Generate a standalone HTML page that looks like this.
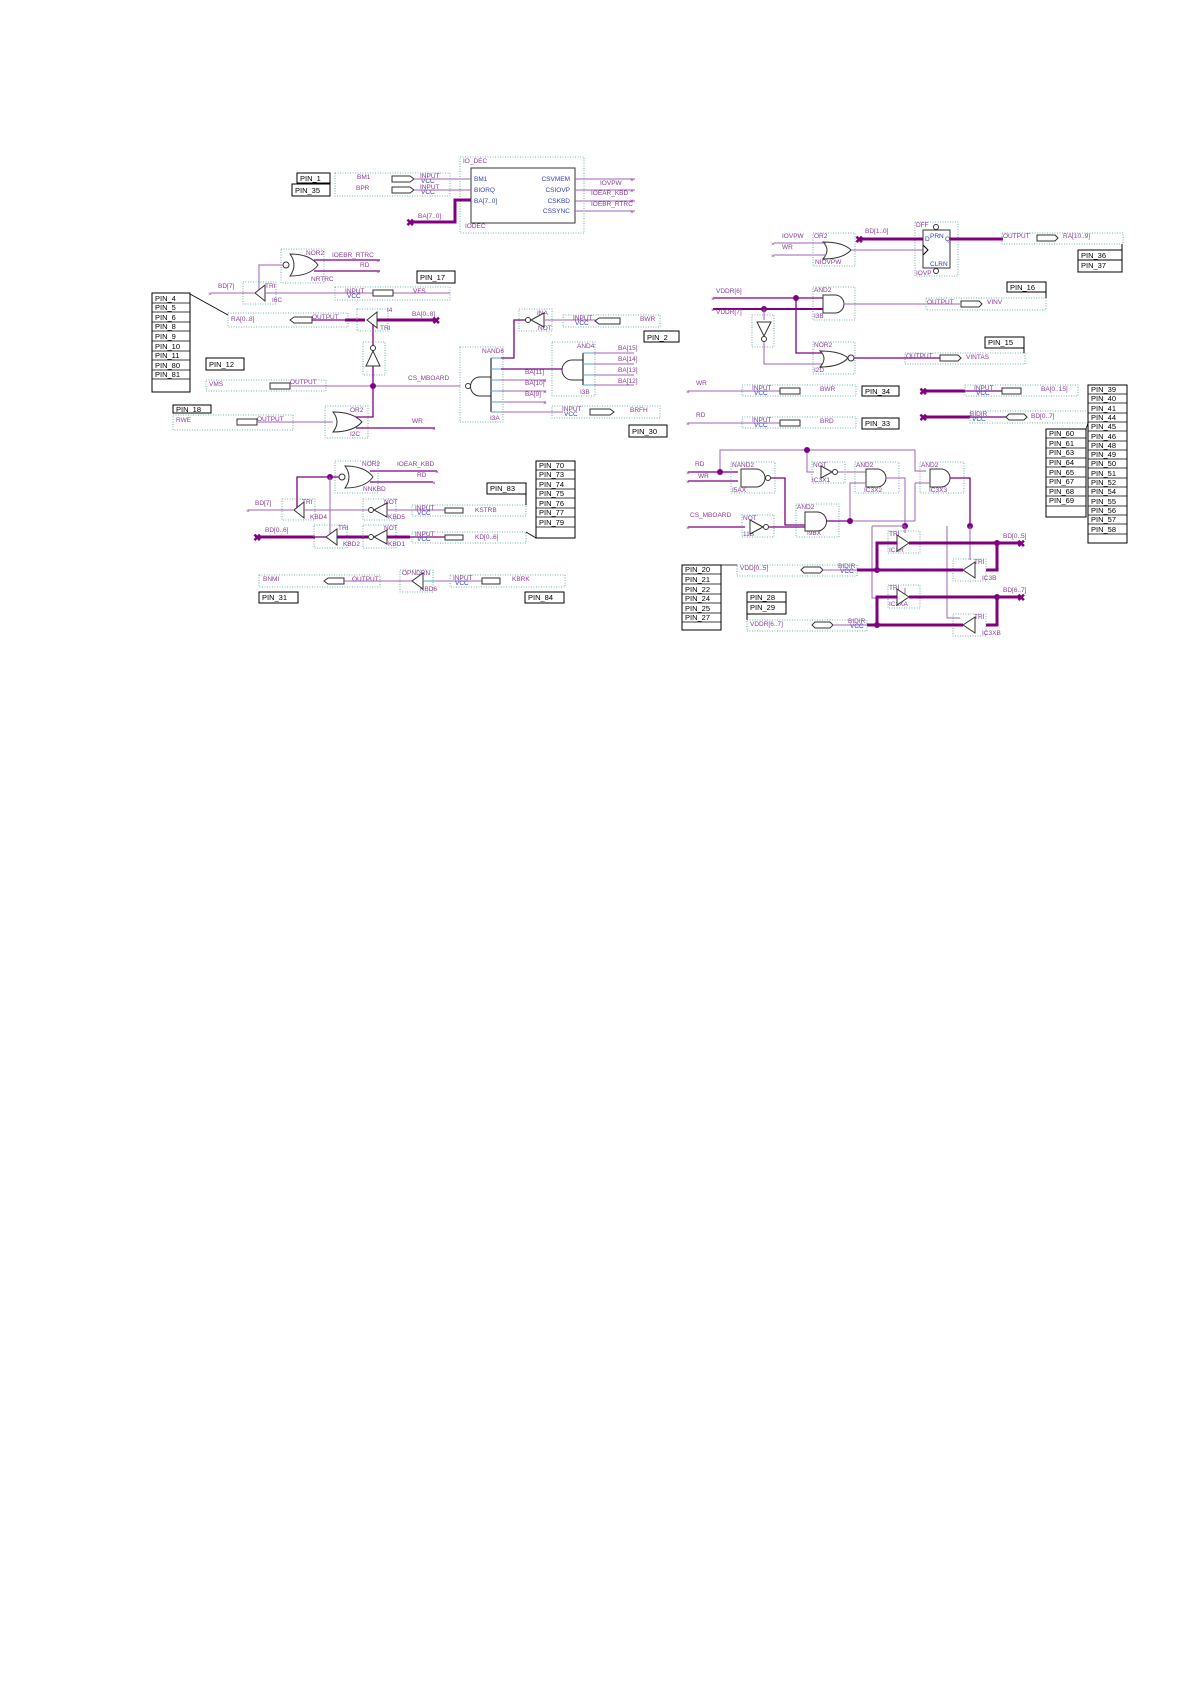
<!DOCTYPE html>
<html><head><meta charset="utf-8"><style>
html,body{margin:0;padding:0;background:#fff}
svg{display:block}
text{font-family:"Liberation Sans",sans-serif}
.p{fill:#8a3a9a;font-size:6.5px}
.b{fill:#3040c0;font-size:6.5px}
.n{fill:#000;font-size:7.5px}
.t{stroke:#a060b8;stroke-width:1;fill:none}
.m{stroke:#800080;stroke-width:1.3;fill:none}
.w{stroke:#800080;stroke-width:3;fill:none}
.c{stroke:#50a8d0;stroke-width:1;fill:none}
.k{stroke:#333;stroke-width:1;fill:#fff}
.d{stroke:#4a9a9a;stroke-width:0.8;fill:none;stroke-dasharray:1,1.5}
.pb{stroke:#000;stroke-width:1;fill:#fff}
.j{fill:#800080}
</style></head><body>
<svg width="1191" height="1684" viewBox="0 0 1191 1684" xmlns="http://www.w3.org/2000/svg">
<rect width="1191" height="1684" fill="#fff"/>

<!-- ========== IO_DEC ========== -->
<rect class="d" x="460" y="157" width="124" height="76"/>
<text class="p" x="463" y="163">IO_DEC</text>
<rect class="k" x="471" y="168" width="104" height="55"/>
<text class="b" x="474" y="181">BM1</text>
<text class="b" x="474" y="192">BIORQ</text>
<text class="b" x="474" y="203">BA[7..0]</text>
<text class="b" x="570" y="181" text-anchor="end">CSVMEM</text>
<text class="b" x="570" y="192" text-anchor="end">CSIOVP</text>
<text class="b" x="570" y="203" text-anchor="end">CSKBD</text>
<text class="b" x="570" y="213" text-anchor="end">CSSYNC</text>
<text class="p" x="465" y="228">IODEC</text>
<path class="t" d="M575 179H635M575 190H635M575 201H635M575 211H635"/>
<text class="p" x="600" y="185">IOVPW</text>
<text class="p" x="591" y="195">IOEAR_KBD</text>
<text class="p" x="591" y="206">IOEBR_RTRC</text>
<text class="p" x="630" y="182">×</text><text class="p" x="630" y="193">×</text><text class="p" x="630" y="203">×</text><text class="p" x="630" y="214">×</text>
<path class="w" d="M412 222H455V200H471"/>
<text class="p" x="418" y="218">BA[7..0]</text>
<text style="fill:#800080;font-size:10px;font-weight:bold" x="406" y="226">✖</text>
<!-- PIN_1 / PIN_35 -->
<rect class="pb" x="297" y="173" width="33" height="10"/><text class="n" x="300" y="181">PIN_1</text>
<rect class="pb" x="292" y="184" width="38" height="12"/><text class="n" x="295" y="193">PIN_35</text>
<rect class="d" x="335" y="173" width="115" height="23"/>
<text class="p" x="357" y="179">BM1</text><text class="p" x="356" y="190">BPR</text>
<path class="k" d="M392 176H410L414 179L410 182H392Z"/><path class="k" d="M392 187H410L414 190L410 193H392Z"/>
<text class="p" x="420" y="178">INPUT</text><text class="b" x="421" y="183">VCC</text>
<text class="p" x="420" y="189">INPUT</text><text class="b" x="421" y="194">VCC</text>
<path class="t" d="M414 179H471M414 190H471"/>

<!-- ========== NOR2 NRTRC ========== -->
<rect class="d" x="281" y="249" width="43" height="34"/>
<text class="p" x="306" y="255">NOR2</text>
<path class="k" d="M290 254Q298 265 290 276Q310 276 318 265Q310 254 290 254Z"/>
<circle class="k" cx="286" cy="265" r="3"/>
<text class="p" x="311" y="281">NRTRC</text>
<path class="m" d="M314 260H380M314 271H380"/>
<text class="p" x="332" y="257">IOEBR_RTRC</text>
<text class="p" x="360" y="267">RD</text>
<text class="p" x="376" y="263">×</text><text class="p" x="376" y="274">×</text>
<path class="t" d="M283 265H259V293"/>
<!-- PIN_17 -->
<rect class="pb" x="417" y="271" width="38" height="12"/><text class="n" x="420" y="280">PIN_17</text>
<!-- TRI I6C -->
<rect class="d" x="243" y="282" width="33" height="22"/>
<text class="p" x="265" y="288">TRI</text><text class="p" x="272" y="302">I6C</text>
<path class="k" d="M265 285V301L255 293Z"/>
<path class="t" d="M211 293H255M265 293H450"/>
<text class="p" x="218" y="288">BD[7]</text><text class="p" x="208" y="296">×</text>
<rect class="d" x="335" y="287" width="115" height="13"/>
<text class="p" x="345" y="293">INPUT</text><text class="b" x="347" y="298">VCC</text>
<path class="k" d="M373 290H393V296H373Z"/>
<text class="p" x="413" y="293">VFS</text>

<!-- left pin list -->
<rect class="pb" x="152" y="293" width="38" height="99"/>
<g class="n">
<text x="155" y="301">PIN_4</text><text x="155" y="310">PIN_5</text><text x="155" y="320">PIN_6</text><text x="155" y="329">PIN_8</text><text x="155" y="339">PIN_9</text><text x="155" y="349">PIN_10</text><text x="155" y="358">PIN_11</text><text x="155" y="368">PIN_80</text><text x="155" y="377">PIN_81</text></g>
<path stroke="#000" stroke-width="0.8" d="M152 303H190M152 312H190M152 322H190M152 331H190M152 341H190M152 351H190M152 360H190M152 370H190M152 379H190"/>
<path stroke="#000" stroke-width="0.8" d="M190 294L228 315"/>
<!-- RA[0..8] -->
<rect class="d" x="228" y="313" width="120" height="14"/>
<text class="p" x="231" y="321">RA[0..8]</text>
<path class="k" d="M290 320L294 317H312V323H294Z"/>
<text class="p" x="312" y="319">OUTPUT</text>
<path class="m" d="M312 320H345"/><path class="w" d="M345 320H365"/>
<rect class="d" x="357" y="309" width="31" height="22"/>
<text class="p" x="387" y="312">I4</text><text class="p" x="380" y="330">TRI</text>
<path class="k" d="M377 312V328L367 320Z"/>
<path class="w" d="M377 320H438"/>
<text class="p" x="412" y="316">BA[0..8]</text>
<text style="fill:#800080;font-size:10px;font-weight:bold" x="432" y="324">✖</text>
<path class="m" d="M373 324V386"/>
<!-- NOT vertical -->
<rect class="d" x="363" y="342" width="22" height="33"/>
<circle class="k" cx="373" cy="348" r="2.5"/><path class="k" d="M366 366H380L373 351Z"/>
<!-- PIN_12 / VMS -->
<rect class="pb" x="206" y="358" width="38" height="12"/><text class="n" x="209" y="367">PIN_12</text>
<rect class="d" x="206" y="380" width="120" height="11"/>
<text class="p" x="209" y="386">VMS</text>
<path class="k" d="M270 383H290V389H270Z"/>
<text class="p" x="290" y="384">OUTPUT</text>
<path class="t" d="M290 386H460"/>
<circle class="j" cx="373" cy="386" r="3"/>
<text class="p" x="408" y="380">CS_MBOARD</text>
<!-- PIN_18 / RWE -->
<rect class="pb" x="173" y="405" width="38" height="8"/><text class="n" x="176" y="412">PIN_18</text>
<rect class="d" x="173" y="415" width="120" height="15"/>
<text class="p" x="176" y="422">RWE</text>
<path class="k" d="M237 419H257V425H237Z"/><text class="p" x="257" y="421">OUTPUT</text>
<path class="t" d="M257 422H333"/>
<!-- OR2 I2C -->
<rect class="d" x="325" y="406" width="43" height="32"/>
<text class="p" x="350" y="412">OR2</text><text class="p" x="350" y="436">I2C</text>
<path class="k" d="M333 412Q341 422 333 432Q353 432 362 422Q353 412 333 412Z"/>
<path class="m" d="M373 386V417H356M356 428H435"/>
<text class="p" x="412" y="423">WR</text><text class="p" x="432" y="431">×</text>

<!-- NAND6 I3A -->
<rect class="d" x="460" y="347" width="43" height="75"/>
<text class="p" x="482" y="353">NAND6</text><text class="p" x="490" y="420">I3A</text>
<path class="k" d="M491 377V396H480A9.5 9.5 0 0 1 480 377Z"/>
<circle class="k" cx="468" cy="386" r="2.5"/>
<path stroke="#000" d="M491 358V412"/>
<path class="c" d="M491 358H501M491 369H501M491 380H501M491 391H501M491 402H501M491 412H501"/>
<path class="m" d="M501 358H514V320H526M501 369H564"/>
<path class="t" d="M501 380H546M501 391H546M501 402H546M501 412H563"/>
<text class="p" x="525" y="374">BA[11]</text><text class="p" x="525" y="385">BA[10]</text><text class="p" x="525" y="396">BA[9]</text>
<text class="p" x="543" y="383">×</text><text class="p" x="543" y="394">×</text><text class="p" x="543" y="405">×</text>
<!-- INA NOT -->
<rect class="d" x="519" y="309" width="33" height="22"/>
<text class="p" x="537" y="315">INA</text><text class="p" x="538" y="330">NOT</text>
<circle class="k" cx="528" cy="320" r="2.5"/><path class="k" d="M531 320L544 313V327Z"/>
<path class="t" d="M544 320H600"/>
<rect class="d" x="563" y="315" width="97" height="12"/>
<text class="p" x="573" y="320">INPUT</text><text class="b" x="575" y="325">VCC</text>
<path class="k" d="M595 321L599 318H620V324H599Z"/><text class="p" x="640" y="321">BWR</text>
<rect class="pb" x="644" y="331" width="35" height="11"/><text class="n" x="647" y="340">PIN_2</text>
<!-- AND4 I3B -->
<rect class="d" x="552" y="342" width="43" height="54"/>
<text class="p" x="577" y="348">AND4</text><text class="p" x="580" y="394">I3B</text>
<path class="k" d="M583 360V380H572A10 10 0 0 1 572 360Z"/>
<path stroke="#000" d="M583 353V385"/>
<path class="c" d="M583 353H594M583 364H594M583 375H594M583 385H594"/>
<path class="t" d="M594 353H634M594 364H634M594 375H634M594 385H634"/>
<text class="p" x="618" y="350">BA[15]</text><text class="p" x="618" y="361">BA[14]</text><text class="p" x="618" y="372">BA[13]</text><text class="p" x="618" y="383">BA[12]</text>
<rect class="d" x="552" y="406" width="108" height="12"/>
<text class="p" x="562" y="411">INPUT</text><text class="b" x="564" y="416">VCC</text>
<path class="k" d="M590 409H610L614 412L610 415H590Z"/><text class="p" x="630" y="412">BRFH</text>
<rect class="pb" x="629" y="425" width="38" height="12"/><text class="n" x="632" y="434">PIN_30</text>

<!-- ========== Keyboard section ========== -->
<rect class="d" x="335" y="461" width="43" height="32"/>
<text class="p" x="362" y="466">NOR2</text><text class="p" x="363" y="491">NNKBD</text>
<path class="k" d="M345 466Q353 477 345 488Q365 488 373 477Q365 466 345 466Z"/>
<circle class="k" cx="342" cy="477" r="3"/>
<path class="m" d="M370 471H437M370 482H433"/>
<text class="p" x="397" y="466">IOEAR_KBD</text><text class="p" x="417" y="477">RD</text>
<text class="p" x="435" y="474">×</text><text class="p" x="432" y="485">×</text>
<path class="m" d="M339 477H297V509"/>
<circle class="j" cx="330" cy="477" r="3"/>
<path class="t" d="M330 477V535"/>
<rect class="pb" x="487" y="483" width="39" height="11"/><text class="n" x="490" y="491">PIN_83</text>
<path stroke="#000" d="M526 494V505"/>
<rect class="d" x="282" y="499" width="33" height="21"/>
<text class="p" x="302" y="504">TRI</text><text class="p" x="310" y="519">KBD4</text>
<path class="k" d="M304 502V518L294 510Z"/>
<path class="t" d="M248 510H294M304 510H368"/>
<text class="p" x="255" y="505">BD[7]</text><text class="p" x="246" y="513">×</text>
<rect class="d" x="363" y="499" width="33" height="21"/>
<text class="p" x="384" y="504">NOT</text><text class="p" x="388" y="519">KBD5</text>
<circle class="k" cx="371" cy="510" r="2.5"/><path class="k" d="M374 510L387 503V517Z"/>
<path class="t" d="M387 510H445"/>
<rect class="d" x="412" y="505" width="114" height="11"/>
<text class="p" x="415" y="510">INPUT</text><text class="b" x="417" y="515">VCC</text>
<path class="k" d="M445 508H463V513H445Z"/><text class="p" x="475" y="512">KSTRB</text>
<!-- KD -->
<path class="w" d="M259 537H315"/>
<text style="fill:#800080;font-size:10px;font-weight:bold" x="253" y="541">✖</text>
<text class="p" x="265" y="532">BD[0..6]</text>
<rect class="d" x="314" y="525" width="33" height="23"/>
<text class="p" x="338" y="530">TRI</text><text class="p" x="343" y="546">KBD2</text>
<path class="k" d="M337 529V545L326 537Z"/>
<path class="m" d="M315 537H326"/><path class="w" d="M337 537H368"/>
<rect class="d" x="363" y="525" width="33" height="23"/>
<text class="p" x="384" y="530">NOT</text><text class="p" x="388" y="546">KBD1</text>
<circle class="k" cx="371" cy="537" r="2.5"/><path class="k" d="M374 537L387 530V544Z"/>
<path class="w" d="M387 537H410"/><path class="m" d="M410 537H445"/>
<rect class="d" x="412" y="532" width="114" height="11"/>
<text class="p" x="415" y="536">INPUT</text><text class="b" x="417" y="541">VCC</text>
<path class="k" d="M445 535H463V540H445Z"/><text class="p" x="475" y="539">KD[0..6]</text>
<path stroke="#000" stroke-width="0.8" d="M526 532L536 538"/>
<rect class="pb" x="536" y="461" width="39" height="77"/>
<g class="n"><text x="539" y="468">PIN_70</text><text x="539" y="477">PIN_73</text><text x="539" y="487">PIN_74</text><text x="539" y="496">PIN_75</text><text x="539" y="506">PIN_76</text><text x="539" y="515">PIN_77</text><text x="539" y="525">PIN_79</text></g>
<path stroke="#000" stroke-width="0.8" d="M536 470H575M536 479H575M536 489H575M536 498H575M536 508H575M536 517H575M536 527H575"/>
<!-- BNMI / KBRK -->
<rect class="d" x="259" y="575" width="121" height="12"/>
<text class="p" x="263" y="581">BNMI</text>
<path class="k" d="M324 581L328 578H344V584H328Z"/><text class="p" x="352" y="581">OUTPUT</text>
<path class="t" d="M344 581H420"/>
<rect class="pb" x="259" y="592" width="39" height="11"/><text class="n" x="262" y="600">PIN_31</text>
<rect class="d" x="400" y="570" width="33" height="22"/>
<text class="p" x="402" y="575">OPNDRN</text><text class="p" x="420" y="591">KBD6</text>
<path class="k" d="M423 573V589L412 581Z"/>
<path class="c" d="M423 581H435"/><path class="t" d="M435 581H482"/>
<rect class="d" x="450" y="575" width="115" height="12"/>
<text class="p" x="453" y="580">INPUT</text><text class="b" x="455" y="585">VCC</text>
<path class="k" d="M482 578H500V584H482Z"/><text class="p" x="512" y="581">KBRK</text>
<rect class="pb" x="525" y="592" width="39" height="11"/><text class="n" x="528" y="600">PIN_84</text>

<!-- ========== Right top ========== -->
<rect class="d" x="813" y="233" width="42" height="33"/>
<text class="p" x="814" y="238">OR2</text><text class="p" x="815" y="264">NIOVPW</text>
<path class="k" d="M823 242Q831 250 823 259Q843 259 851 250Q843 242 823 242Z"/>
<path class="t" d="M774 243H826M774 255H826M851 250H923"/>
<text class="p" x="782" y="238">IOVPW</text><text class="p" x="782" y="249">WR</text>
<text class="p" x="771" y="246">×</text><text class="p" x="771" y="258">×</text>
<rect class="d" x="915" y="222" width="43" height="54"/>
<text class="p" x="916" y="227">DFF</text><text class="p" x="916" y="275">IOVP</text>
<rect class="k" x="923" y="230" width="27" height="38"/>
<circle class="k" cx="936" cy="227" r="2.5"/><circle class="k" cx="936" cy="271" r="2.5"/>
<text class="b" x="930" y="238">PRN</text><text class="b" x="930" y="266">CLRN</text>
<text class="b" x="925" y="241">D</text><text class="b" x="945" y="241">Q</text>
<path stroke="#000" fill="none" d="M923 245L928 250L923 255"/>
<path class="w" d="M861 239H923M950 239H1003"/>
<text style="fill:#800080;font-size:10px;font-weight:bold" x="855" y="243">✖</text>
<text class="p" x="865" y="233">BD[1..0]</text>
<rect class="d" x="1002" y="233" width="121" height="11"/>
<text class="p" x="1003" y="238">OUTPUT</text>
<path class="k" d="M1037 235H1055L1058 238L1055 241H1037Z"/><text class="p" x="1063" y="238">RA[10..9]</text>
<path stroke="#000" d="M1122 244V250"/>
<rect class="pb" x="1078" y="250" width="44" height="22"/>
<path stroke="#000" d="M1078 260H1122"/>
<text class="n" x="1081" y="258">PIN_36</text><text class="n" x="1081" y="268">PIN_37</text>
<!-- VDDR -->
<path class="m" d="M713 298H826"/><path class="w" d="M713 309H826" style="stroke-width:2"/>
<text class="p" x="716" y="293">VDDR[6]</text><text class="p" x="716" y="314">VDDR[7]</text>
<text class="p" x="711" y="301">×</text><text class="p" x="711" y="312">×</text>
<circle class="j" cx="796" cy="298" r="3"/><circle class="j" cx="764" cy="309" r="3"/>
<path class="m" d="M796 298V353H826"/>
<rect class="d" x="813" y="287" width="42" height="33"/>
<text class="p" x="814" y="292">AND2</text><text class="p" x="814" y="318">I3B</text>
<path class="k" d="M823 295V313H835A9 9 0 0 0 835 295Z"/>
<path class="t" d="M844 304H960"/>
<rect class="d" x="926" y="298" width="120" height="12"/>
<text class="p" x="927" y="304">OUTPUT</text>
<path class="k" d="M961 301H979L982 304L979 307H961Z"/><text class="p" x="987" y="304">VINV</text>
<rect class="pb" x="1007" y="282" width="39" height="10"/><text class="n" x="1010" y="290">PIN_16</text>
<path stroke="#000" d="M1046 292V298"/>
<rect class="d" x="752" y="315" width="22" height="32"/>
<path class="k" d="M757 322H771L764 336Z"/><circle class="k" cx="764" cy="339" r="2.5"/>
<path class="t" d="M764 309V320M764 342V364H826"/>
<rect class="d" x="813" y="342" width="42" height="32"/>
<text class="p" x="814" y="347">NOR2</text><text class="p" x="814" y="372">I2D</text>
<path class="k" d="M820 351Q828 358 820 367Q840 367 848 358Q840 351 820 351Z"/>
<circle class="k" cx="851" cy="358" r="3"/>
<path class="m" d="M854 358H940"/>
<rect class="d" x="905" y="353" width="120" height="11"/>
<text class="p" x="906" y="358">OUTPUT</text>
<path class="k" d="M940 355H958L961 358L958 361H940Z"/><text class="p" x="966" y="359">VINTAS</text>
<rect class="pb" x="985" y="337" width="39" height="11"/><text class="n" x="988" y="345">PIN_15</text>
<path stroke="#000" d="M1024 348V353"/>
<!-- WR / RD inputs -->
<path class="t" d="M688 391H780M688 423H780"/>
<text class="p" x="696" y="385">WR</text><text class="p" x="696" y="417">RD</text>
<text class="p" x="686" y="394">×</text><text class="p" x="686" y="426">×</text>
<rect class="d" x="742" y="385" width="114" height="11"/>
<text class="p" x="752" y="390">INPUT</text><text class="b" x="754" y="395">VCC</text>
<path class="k" d="M780 388H800V394H780Z"/><text class="p" x="820" y="391">BWR</text>
<rect class="pb" x="862" y="386" width="37" height="10"/><text class="n" x="865" y="394">PIN_34</text>
<rect class="d" x="742" y="417" width="114" height="11"/>
<text class="p" x="752" y="422">INPUT</text><text class="b" x="754" y="427">VCC</text>
<path class="k" d="M780 420H800V426H780Z"/><text class="p" x="820" y="423">BRD</text>
<rect class="pb" x="862" y="418" width="37" height="11"/><text class="n" x="865" y="426">PIN_33</text>
<!-- BA[0..15], BD[0..7] -->
<path class="w" d="M925 391H965"/><path class="m" d="M965 391H1002"/>
<text style="fill:#800080;font-size:10px;font-weight:bold" x="919" y="395">✖</text>
<rect class="d" x="965" y="385" width="113" height="11"/>
<text class="p" x="974" y="390">INPUT</text><text class="b" x="976" y="395">VCC</text>
<path class="k" d="M1002 388H1021V394H1002Z"/><text class="p" x="1041" y="391">BA[0..15]</text>
<path class="w" d="M925 417H970"/><path class="m" d="M970 417H1006"/>
<text style="fill:#800080;font-size:10px;font-weight:bold" x="919" y="421">✖</text>
<rect class="d" x="970" y="411" width="118" height="12"/>
<text class="p" x="970" y="416">BIDIR</text><text class="b" x="972" y="421">VCC</text>
<path class="k" d="M1006 417L1009 414H1024L1027 417L1024 420H1009Z"/><text class="p" x="1031" y="418">BD[0..7]</text>
<path stroke="#000" stroke-width="0.8" d="M1088 423L1086 429"/>
<!-- right pin lists -->
<rect class="pb" x="1088" y="385" width="39" height="158"/>
<g class="n"><text x="1091" y="392">PIN_39</text><text x="1091" y="401">PIN_40</text><text x="1091" y="411">PIN_41</text><text x="1091" y="420">PIN_44</text><text x="1091" y="429">PIN_45</text><text x="1091" y="439">PIN_46</text><text x="1091" y="448">PIN_48</text><text x="1091" y="457">PIN_49</text><text x="1091" y="466">PIN_50</text><text x="1091" y="476">PIN_51</text><text x="1091" y="485">PIN_52</text><text x="1091" y="494">PIN_54</text><text x="1091" y="504">PIN_55</text><text x="1091" y="513">PIN_56</text><text x="1091" y="522">PIN_57</text><text x="1091" y="532">PIN_58</text></g>
<path stroke="#000" stroke-width="0.8" d="M1088 394H1127M1088 403H1127M1088 413H1127M1088 422H1127M1088 431H1127M1088 441H1127M1088 450H1127M1088 459H1127M1088 468H1127M1088 478H1127M1088 487H1127M1088 496H1127M1088 506H1127M1088 515H1127M1088 524H1127M1088 534H1127"/>
<rect class="pb" x="1046" y="429" width="40" height="88"/>
<g class="n"><text x="1049" y="436">PIN_60</text><text x="1049" y="446">PIN_61</text><text x="1049" y="455">PIN_63</text><text x="1049" y="465">PIN_64</text><text x="1049" y="475">PIN_65</text><text x="1049" y="484">PIN_67</text><text x="1049" y="494">PIN_68</text><text x="1049" y="503">PIN_69</text></g>
<path stroke="#000" stroke-width="0.8" d="M1046 438H1086M1046 448H1086M1046 458H1086M1046 467H1086M1046 477H1086M1046 487H1086M1046 496H1086M1046 506H1086"/>

<!-- ========== Right bottom logic ========== -->
<path class="t" d="M720 472V450H915V471H926M807 450V472H814"/>
<circle class="j" cx="807" cy="450" r="3"/>
<path class="m" d="M688 472H738M688 481H738"/>
<circle class="j" cx="720" cy="472" r="3"/>
<text class="p" x="695" y="466">RD</text><text class="p" x="698" y="478">WR</text>
<text class="p" x="686" y="475">×</text><text class="p" x="686" y="484">×</text>
<rect class="d" x="731" y="462" width="44" height="31"/>
<text class="p" x="732" y="467">NAND2</text><text class="p" x="732" y="492">I5AX</text>
<path class="k" d="M741 469V487H756A9 9 0 0 0 756 469Z"/><circle class="k" cx="768" cy="478" r="2.5"/>
<path class="m" d="M771 478H785V525H805"/>
<rect class="d" x="812" y="462" width="33" height="21"/>
<text class="p" x="813" y="467">NOT</text><text class="p" x="812" y="482">IC3X1</text>
<path class="k" d="M821 466L832 472L821 478Z"/><circle class="k" cx="835" cy="472" r="2.5"/>
<path class="t" d="M838 472H866"/>
<rect class="d" x="855" y="462" width="44" height="31"/>
<text class="p" x="856" y="467">AND2</text><text class="p" x="864" y="492">IC3X2</text>
<path class="k" d="M866 469V487H877A9 9 0 0 0 877 469Z"/>
<path class="t" d="M850 521V483H866"/>
<path class="t" d="M886 478H905V528"/>
<rect class="d" x="920" y="462" width="44" height="31"/>
<text class="p" x="921" y="467">AND2</text><text class="p" x="929" y="492">IC3X3</text>
<path class="k" d="M930 469V487H941A9 9 0 0 0 941 469Z"/>
<path class="t" d="M915 483H930M915 483V521"/>
<path class="m" d="M950 478H970V526"/>
<text class="p" x="690" y="517">CS_MBOARD</text>
<path class="m" d="M688 527H745"/><text class="p" x="686" y="530">×</text>
<rect class="d" x="742" y="515" width="32" height="22"/>
<text class="p" x="743" y="520">NOT</text><text class="p" x="743" y="536">11B</text>
<path class="k" d="M750 520L763 527L750 534Z"/><circle class="k" cx="766" cy="527" r="2.5"/>
<path class="m" d="M769 527H805"/>
<rect class="d" x="796" y="504" width="43" height="33"/>
<text class="p" x="797" y="509">AND2</text><text class="p" x="807" y="535">I9BX</text>
<path class="k" d="M805 512V531H817A9.5 9.5 0 0 0 817 512Z"/>
<path class="m" d="M826 521H850"/><path class="t" d="M850 521H915"/>
<circle class="j" cx="850" cy="521" r="3"/>
<circle class="j" cx="905" cy="526" r="3"/><circle class="j" cx="970" cy="526" r="3"/>
<path class="t" d="M905 526V533M872 526H905V533M872 526V598H905M905 598V588M947 526V618H960M970 526V560"/>
<!-- TRI IC3R -->
<rect class="d" x="888" y="531" width="32" height="22"/>
<text class="p" x="889" y="536">TRI</text><text class="p" x="889" y="552">IC3R</text>
<path class="k" d="M897 535V551L909 543Z"/>
<path class="w" d="M877 570V543H897"/><path class="w" d="M909 543H1023"/>
<circle class="j" cx="997" cy="543" r="3"/>
<text class="p" x="1003" y="538">BD[0..5]</text>
<text style="fill:#800080;font-size:10px;font-weight:bold" x="1017" y="547">✖</text>
<path class="w" d="M997 543V570H986"/>
<rect class="d" x="953" y="559" width="33" height="22"/>
<text class="p" x="974" y="564">TRI</text><text class="p" x="982" y="580">IC3B</text>
<path class="k" d="M975 562V578L963 570Z"/>
<path class="w" d="M857 570H963"/>
<circle class="j" cx="877" cy="570" r="3"/>
<rect class="d" x="737" y="565" width="120" height="11"/>
<text class="p" x="740" y="570">VDD[0..5]</text>
<path class="k" d="M801 570L804 567H820L823 570L820 573H804Z"/>
<text class="p" x="838" y="568">BIDIR</text><text class="b" x="840" y="573">VCC</text>
<path class="t" d="M823 570H857"/>
<rect class="pb" x="682" y="565" width="39" height="65"/>
<g class="n"><text x="685" y="572">PIN_20</text><text x="685" y="582">PIN_21</text><text x="685" y="592">PIN_22</text><text x="685" y="601">PIN_24</text><text x="685" y="611">PIN_25</text><text x="685" y="620">PIN_27</text></g>
<path stroke="#000" stroke-width="0.8" d="M682 574H721M682 584H721M682 594H721M682 603H721M682 613H721M682 622H721M721 565H737"/>
<!-- TRI IC3XA -->
<rect class="d" x="888" y="585" width="32" height="23"/>
<text class="p" x="889" y="590">TRI</text><text class="p" x="889" y="606">IC3XA</text>
<path class="k" d="M897 589V605L909 597Z"/>
<path class="w" d="M877 625V597H897"/><path class="w" d="M909 597H1023"/>
<circle class="j" cx="997" cy="597" r="3"/>
<text class="p" x="1003" y="592">BD[6..7]</text>
<text style="fill:#800080;font-size:10px;font-weight:bold" x="1017" y="601">✖</text>
<path class="w" d="M997 597V625H986"/>
<rect class="d" x="953" y="614" width="33" height="22"/>
<text class="p" x="974" y="619">TRI</text><text class="p" x="982" y="635">IC3XB</text>
<path class="k" d="M975 617V633L963 625Z"/>
<path class="w" d="M867 625H963"/>
<circle class="j" cx="877" cy="625" r="3"/>
<rect class="pb" x="747" y="592" width="39" height="22"/>
<path stroke="#000" d="M747 602H786M747 614V620"/>
<text class="n" x="750" y="600">PIN_28</text><text class="n" x="750" y="610">PIN_29</text>
<rect class="d" x="747" y="620" width="120" height="11"/>
<text class="p" x="750" y="626">VDDR[6..7]</text>
<path class="k" d="M812 625L815 622H830L833 625L830 628H815Z"/>
<text class="p" x="848" y="623">BIDIR</text><text class="b" x="850" y="628">VCC</text>
<path class="t" d="M833 625H867"/>
</svg>
</body></html>
